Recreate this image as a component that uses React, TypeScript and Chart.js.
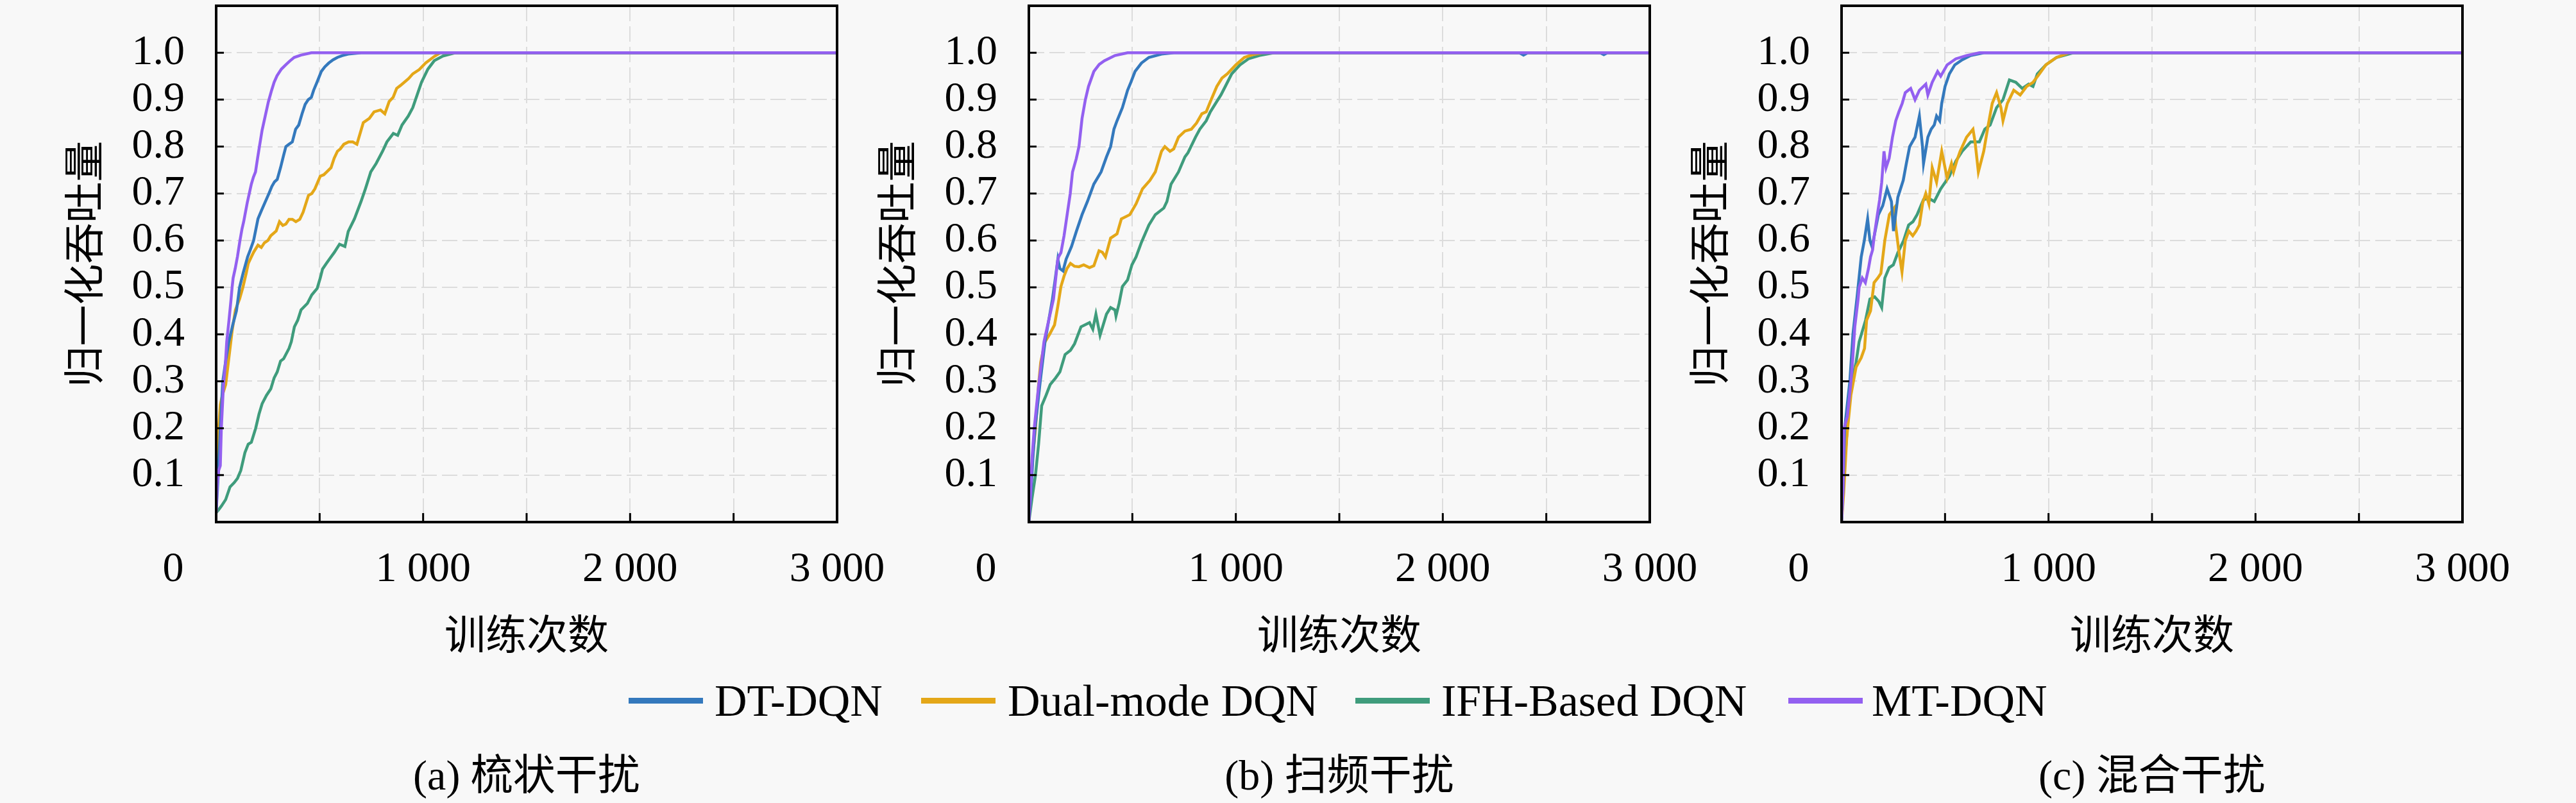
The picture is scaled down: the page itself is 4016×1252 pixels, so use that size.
import React, { useEffect, useRef } from 'react';
import { Chart, registerables } from 'chart.js';

Chart.register(...registerables);

// ---------- labels ----------
const SERIES_NAMES = ['DT-DQN', 'Dual-mode DQN', 'IFH-Based DQN', 'MT-DQN'];
const SERIES_COLORS = ['#3479bd', '#e4a718', '#3f9c7c', '#9360f0'];
const SERIES_DRAW_ORDER = [1, 2, 3, 0];
const PANEL_CAPTIONS = ['(a) 梳状干扰', '(b) 扫频干扰', '(c) 混合干扰'];
const X_TITLE = '训练次数';
const Y_TITLE = '归一化吞吐量';
const X_TICKS = [0, 1000, 2000, 3000];
const X_TICK_LABELS = ['0', '1 000', '2 000', '3 000'];
const X_TICK_MARKS = [500, 1000, 1500, 2000, 2500];
const Y_TICKS = [0.1, 0.2, 0.3, 0.4, 0.5, 0.6, 0.7, 0.8, 0.9, 1.0];

// ---------- panel (a) 梳状干扰 ----------
const A_DT_X = [0, 10, 20, 32, 45, 61, 80, 98, 113, 130, 152, 165, 181, 202, 220, 238, 255, 269, 282, 295, 311, 325, 337, 352, 368, 384, 399, 415, 430, 445, 460, 471, 487, 508, 525, 544, 565, 586, 610, 638, 700, 800, 3000];
const A_DT_Y = [0.02, 0.1, 0.2, 0.3, 0.34, 0.384, 0.42, 0.45, 0.5, 0.53, 0.565, 0.58, 0.6, 0.646, 0.665, 0.683, 0.7, 0.715, 0.725, 0.73, 0.755, 0.78, 0.8, 0.805, 0.81, 0.837, 0.846, 0.87, 0.89, 0.9, 0.905, 0.92, 0.937, 0.96, 0.97, 0.978, 0.985, 0.99, 0.994, 0.997, 1, 1, 1];
const A_DM_X = [0, 5, 12, 20, 30, 46, 61, 77, 93, 113, 129, 145, 155, 170, 181, 202, 218, 233, 250, 264, 290, 306, 322, 337, 352, 368, 385, 404, 420, 446, 462, 477, 503, 520, 534, 555, 570, 586, 600, 617, 640, 660, 680, 711, 740, 763, 794, 815, 836, 855, 872, 890, 909, 930, 950, 981, 1012, 1054, 1084, 1150, 3000];
const A_DM_Y = [0.02, 0.1, 0.2, 0.25, 0.27, 0.293, 0.348, 0.407, 0.452, 0.475, 0.5, 0.53, 0.551, 0.565, 0.575, 0.59, 0.585, 0.595, 0.6, 0.61, 0.62, 0.64, 0.632, 0.635, 0.645, 0.645, 0.64, 0.645, 0.66, 0.696, 0.7, 0.71, 0.737, 0.74, 0.746, 0.755, 0.775, 0.79, 0.795, 0.805, 0.81, 0.81, 0.805, 0.851, 0.86, 0.874, 0.878, 0.87, 0.896, 0.905, 0.924, 0.93, 0.937, 0.945, 0.955, 0.964, 0.978, 0.992, 1, 1, 1];
const A_IFH_X = [0, 10, 25, 46, 67, 87, 103, 119, 139, 155, 170, 191, 207, 222, 243, 264, 280, 295, 311, 326, 352, 363, 378, 394, 410, 441, 462, 488, 503, 514, 534, 550, 570, 596, 622, 638, 668, 700, 721, 747, 773, 804, 825, 856, 877, 898, 928, 950, 971, 992, 1023, 1054, 1096, 1158, 1250, 3000];
const A_IFH_Y = [0.02, 0.025, 0.034, 0.048, 0.075, 0.084, 0.093, 0.11, 0.148, 0.166, 0.17, 0.2, 0.23, 0.252, 0.27, 0.284, 0.307, 0.32, 0.343, 0.348, 0.37, 0.384, 0.416, 0.43, 0.452, 0.466, 0.484, 0.498, 0.52, 0.539, 0.552, 0.562, 0.574, 0.592, 0.587, 0.619, 0.646, 0.683, 0.71, 0.746, 0.764, 0.79, 0.81, 0.828, 0.824, 0.846, 0.865, 0.883, 0.91, 0.937, 0.965, 0.983, 0.993, 1, 1, 1];
const A_MT_X = [0, 5, 12, 20, 25, 35, 45, 51, 62, 72, 77, 82, 92, 103, 115, 125, 133, 150, 170, 180, 190, 200, 209, 222, 237, 252, 268, 280, 294, 315, 336, 355, 377, 410, 460, 520, 600, 3000];
const A_MT_Y = [0.02, 0.08, 0.11, 0.12, 0.2, 0.29, 0.34, 0.384, 0.43, 0.475, 0.5, 0.52, 0.54, 0.566, 0.6, 0.625, 0.64, 0.68, 0.72, 0.735, 0.746, 0.775, 0.8, 0.835, 0.865, 0.895, 0.92, 0.937, 0.951, 0.965, 0.974, 0.982, 0.99, 0.995, 1, 1, 1, 1];

// ---------- panel (b) 扫频干扰 ----------
const B_DT_X = [0, 10, 20, 30, 55, 78, 96, 114, 128, 140, 150, 165, 180, 206, 230, 257, 283, 314, 349, 375, 395, 411, 426, 452, 477, 493, 513, 544, 580, 641, 700, 2370, 2390, 2410, 2760, 2778, 2795, 3000];
const B_DT_Y = [0, 0.06, 0.14, 0.2, 0.3, 0.384, 0.43, 0.475, 0.52, 0.56, 0.54, 0.535, 0.56, 0.587, 0.62, 0.655, 0.683, 0.72, 0.746, 0.778, 0.8, 0.837, 0.855, 0.883, 0.92, 0.937, 0.96, 0.978, 0.99, 0.997, 1, 1, 0.995, 1, 1, 0.996, 1, 1];
const B_DM_X = [0, 10, 32, 47, 57, 78, 100, 124, 140, 155, 170, 184, 201, 220, 242, 265, 293, 314, 339, 355, 370, 395, 426, 447, 488, 518, 549, 585, 611, 641, 657, 682, 700, 723, 754, 785, 810, 836, 857, 877, 908, 933, 959, 1000, 1041, 1082, 1133, 1200, 3000];
const B_DM_Y = [0, 0.1, 0.2, 0.293, 0.34, 0.384, 0.4, 0.42, 0.46, 0.502, 0.524, 0.54, 0.551, 0.545, 0.544, 0.548, 0.542, 0.546, 0.578, 0.575, 0.565, 0.605, 0.614, 0.646, 0.655, 0.678, 0.71, 0.728, 0.746, 0.79, 0.8, 0.79, 0.795, 0.82, 0.833, 0.837, 0.85, 0.87, 0.874, 0.896, 0.928, 0.946, 0.955, 0.974, 0.99, 0.996, 1, 1, 1];
const B_IFH_X = [0, 15, 32, 47, 62, 83, 103, 129, 150, 175, 201, 221, 252, 293, 309, 324, 344, 375, 395, 416, 421, 436, 452, 477, 498, 518, 544, 580, 611, 652, 667, 687, 723, 754, 769, 805, 826, 857, 877, 908, 928, 949, 980, 1020, 1061, 1113, 1184, 1260, 3000];
const B_IFH_Y = [0, 0.05, 0.1, 0.166, 0.248, 0.27, 0.293, 0.307, 0.32, 0.357, 0.366, 0.38, 0.416, 0.425, 0.411, 0.443, 0.398, 0.443, 0.457, 0.452, 0.439, 0.466, 0.502, 0.516, 0.548, 0.565, 0.596, 0.633, 0.655, 0.669, 0.683, 0.72, 0.746, 0.778, 0.787, 0.82, 0.837, 0.855, 0.874, 0.896, 0.91, 0.928, 0.955, 0.974, 0.987, 0.994, 1, 1, 1];
const B_MT_X = [0, 8, 16, 26, 47, 73, 98, 119, 130, 139, 144, 155, 170, 185, 200, 211, 229, 242, 257, 273, 288, 314, 340, 365, 416, 477, 560, 3000];
const B_MT_Y = [0, 0.06, 0.14, 0.2, 0.29, 0.384, 0.434, 0.475, 0.52, 0.557, 0.565, 0.574, 0.61, 0.655, 0.7, 0.746, 0.774, 0.8, 0.86, 0.9, 0.928, 0.96, 0.975, 0.983, 0.994, 1, 1, 1];

// ---------- panel (c) 混合干扰 ----------
const C_DT_X = [0, 8, 15, 30, 40, 55, 75, 95, 110, 126, 137, 147, 158, 178, 199, 220, 241, 251, 272, 298, 313, 329, 355, 376, 391, 396, 417, 433, 448, 459, 474, 484, 500, 521, 547, 583, 624, 687, 780, 3000];
const C_DT_Y = [0, 0.08, 0.2, 0.26, 0.3, 0.4, 0.48, 0.565, 0.6, 0.646, 0.6, 0.587, 0.61, 0.655, 0.674, 0.71, 0.683, 0.62, 0.692, 0.728, 0.764, 0.8, 0.82, 0.865, 0.8, 0.764, 0.82, 0.837, 0.846, 0.865, 0.855, 0.892, 0.928, 0.955, 0.974, 0.985, 0.994, 1, 1, 1];
const C_DM_X = [0, 10, 25, 45, 70, 95, 111, 121, 140, 157, 175, 190, 209, 231, 256, 261, 276, 292, 308, 325, 344, 360, 376, 392, 407, 422, 438, 459, 484, 510, 531, 541, 557, 573, 604, 635, 645, 661, 687, 707, 728, 749, 770, 780, 801, 832, 863, 894, 925, 956, 987, 1039, 1101, 1180, 3000];
const C_DM_Y = [0, 0.06, 0.18, 0.27, 0.33, 0.35, 0.37, 0.43, 0.45, 0.51, 0.52, 0.53, 0.6, 0.655, 0.67, 0.633, 0.58, 0.533, 0.6, 0.62, 0.61, 0.62, 0.633, 0.68, 0.7, 0.678, 0.755, 0.724, 0.79, 0.733, 0.764, 0.746, 0.77, 0.79, 0.82, 0.837, 0.81, 0.746, 0.79, 0.842, 0.892, 0.915, 0.883, 0.855, 0.892, 0.92, 0.91, 0.928, 0.937, 0.955, 0.974, 0.99, 1, 1, 1];
const C_IFH_X = [0, 12, 28, 44, 70, 85, 116, 137, 160, 180, 194, 209, 230, 250, 272, 300, 324, 345, 365, 396, 420, 448, 479, 521, 552, 583, 624, 666, 692, 718, 749, 780, 811, 842, 873, 904, 925, 946, 987, 1039, 1122, 1200, 3000];
const C_IFH_Y = [0, 0.11, 0.2, 0.29, 0.34, 0.384, 0.43, 0.475, 0.48, 0.47, 0.457, 0.52, 0.542, 0.548, 0.574, 0.6, 0.633, 0.64, 0.655, 0.687, 0.69, 0.683, 0.71, 0.737, 0.769, 0.79, 0.81, 0.81, 0.837, 0.846, 0.883, 0.9, 0.942, 0.937, 0.924, 0.933, 0.928, 0.955, 0.974, 0.99, 1, 1, 1];
const C_MT_X = [0, 7, 12, 28, 44, 54, 64, 80, 85, 100, 115, 130, 140, 150, 158, 173, 184, 194, 205, 215, 230, 246, 262, 277, 293, 308, 334, 355, 376, 407, 417, 438, 464, 479, 510, 552, 604, 666, 750, 3000];
const C_MT_Y = [0, 0.066, 0.2, 0.225, 0.293, 0.348, 0.416, 0.475, 0.5, 0.52, 0.51, 0.54, 0.565, 0.58, 0.61, 0.655, 0.687, 0.724, 0.79, 0.755, 0.775, 0.82, 0.855, 0.874, 0.892, 0.915, 0.924, 0.9, 0.92, 0.933, 0.91, 0.937, 0.96, 0.95, 0.974, 0.987, 0.994, 1, 1, 1];

const PANELS = [
  [[A_DT_X, A_DT_Y], [A_DM_X, A_DM_Y], [A_IFH_X, A_IFH_Y], [A_MT_X, A_MT_Y]],
  [[B_DT_X, B_DT_Y], [B_DM_X, B_DM_Y], [B_IFH_X, B_IFH_Y], [B_MT_X, B_MT_Y]],
  [[C_DT_X, C_DT_Y], [C_DM_X, C_DM_Y], [C_IFH_X, C_IFH_Y], [C_MT_X, C_MT_Y]],
];

// ---------- layout ----------
const PAGE_W = 4016;
const PAGE_H = 1252;
const BG = '#f8f8f8';
const GRID_COLOR = '#dcdcdc';
const CANVAS_W = 1420;
const CANVAS_H = 1040;
const PANEL_LEFTS = [0, 1267, 2534];
const PAD = { left: 337, top: 9, right: CANVAS_W - 337 - 968, bottom: CANVAS_H - 814 };
const SERIF = '"Liberation Serif", "Times New Roman", serif';
const CJK = '"Noto Sans CJK SC", sans-serif';
const LEGEND_SWATCH_LEFT = [980, 1436, 2113, 2788];
const LEGEND_TEXT_LEFT = [1114, 1571, 2247, 2918];

const framePlugin = {
  id: 'frameAndLabels',
  afterDraw(chart: any) {
    const { ctx, chartArea: a, scales } = chart;
    const xs = scales.x;
    const ys = scales.y;
    ctx.save();
    ctx.strokeStyle = '#000';
    ctx.lineWidth = 3;
    ctx.beginPath();
    Y_TICKS.forEach((v) => {
      const y = ys.getPixelForValue(v);
      ctx.moveTo(a.left, y);
      ctx.lineTo(a.left + 12, y);
    });
    X_TICK_MARKS.forEach((v) => {
      const x = xs.getPixelForValue(v);
      ctx.moveTo(x, a.bottom);
      ctx.lineTo(x, a.bottom - 14);
    });
    ctx.stroke();
    ctx.lineWidth = 4;
    ctx.strokeRect(a.left, a.top, a.right - a.left, a.bottom - a.top);

    ctx.fillStyle = '#000';
    ctx.font = `66px ${SERIF}`;
    ctx.textAlign = 'right';
    ctx.textBaseline = 'middle';
    Y_TICKS.forEach((v) => ctx.fillText(v.toFixed(1), a.left - 49, ys.getPixelForValue(v)));
    ctx.textAlign = 'center';
    ctx.textBaseline = 'alphabetic';
    X_TICKS.forEach((v, i) => {
      let x = xs.getPixelForValue(v);
      if (v === 0) x -= 67;
      ctx.fillText(X_TICK_LABELS[i], x, a.bottom + 92);
    });

    ctx.font = `64px ${CJK}`;
    ctx.textBaseline = 'middle';
    ctx.fillText(X_TITLE, (a.left + a.right) / 2, a.bottom + 174);
    ctx.translate(a.left - 207, (a.top + a.bottom) / 2);
    ctx.rotate(-Math.PI / 2);
    ctx.fillText(Y_TITLE, 0, 0);
    ctx.restore();
  },
};

function Panel({ index }: { index: number }) {
  const ref = useRef<HTMLCanvasElement | null>(null);
  useEffect(() => {
    if (!ref.current) return;
    let cancelled = false;
    const series = PANELS[index];
    const chart = new Chart(ref.current, {
      type: 'line',
      data: {
        datasets: series.map(([xs, ys], i) => ({
          label: SERIES_NAMES[i],
          data: xs.map((x: number, k: number) => ({ x, y: ys[k] })),
          borderColor: SERIES_COLORS[i],
          backgroundColor: SERIES_COLORS[i],
          borderWidth: 4.5,
          pointRadius: 0,
          tension: 0,
          fill: false,
          order: SERIES_DRAW_ORDER[i],
        })),
      },
      options: {
        responsive: false,
        animation: false,
        devicePixelRatio: 1,
        events: [],
        layout: { padding: PAD },
        plugins: { legend: { display: false }, tooltip: { enabled: false } },
        scales: {
          x: {
            type: 'linear',
            min: 0,
            max: 3000,
            ticks: { display: false, stepSize: 500 },
            grid: { color: GRID_COLOR, lineWidth: 2, drawTicks: false },
            border: { display: false, dash: [24, 8] },
          },
          y: {
            type: 'linear',
            min: 0,
            max: 1.1,
            ticks: { display: false, stepSize: 0.1 },
            grid: { color: GRID_COLOR, lineWidth: 2, drawTicks: false },
            border: { display: false, dash: [24, 8] },
          },
        },
      } as any,
      plugins: [framePlugin],
    });
    const fonts: any = (document as any).fonts;
    if (fonts && fonts.load) {
      Promise.all([
        fonts.load(`66px ${SERIF}`, '0.1'),
        fonts.load(`64px ${CJK}`, X_TITLE + Y_TITLE),
      ]).then(() => {
        if (!cancelled) chart.draw();
      }).catch(() => {});
    }
    return () => {
      cancelled = true;
      chart.destroy();
    };
  }, [index]);
  return (
    <canvas
      ref={ref}
      width={CANVAS_W}
      height={CANVAS_H}
      style={{ position: 'absolute', left: PANEL_LEFTS[index], top: 0, width: CANVAS_W, height: CANVAS_H }}
    />
  );
}

export default function App() {
  const centers = PANEL_LEFTS.map((l) => l + 337 + 484);
  return (
    <div
      style={{
        position: 'fixed',
        left: 0,
        top: 0,
        width: PAGE_W,
        height: PAGE_H,
        background: BG,
        overflow: 'hidden',
      }}
    >
      {PANELS.map((_, i) => (
        <Panel key={i} index={i} />
      ))}
      {SERIES_NAMES.map((name, i) => (
        <React.Fragment key={name}>
          <div
            style={{
              position: 'absolute',
              left: LEGEND_SWATCH_LEFT[i],
              top: 1088,
              width: 116,
              height: 9,
              background: SERIES_COLORS[i],
            }}
          />
          <div
            style={{
              position: 'absolute',
              left: LEGEND_TEXT_LEFT[i],
              top: 1058,
              fontFamily: SERIF,
              fontSize: 70,
              lineHeight: 1,
              whiteSpace: 'nowrap',
              color: '#000',
            }}
          >
            {name}
          </div>
        </React.Fragment>
      ))}
      {PANEL_CAPTIONS.map((c, i) => (
        <div
          key={c}
          style={{
            position: 'absolute',
            left: centers[i] - 400,
            width: 800,
            top: 1176,
            textAlign: 'center',
            fontFamily: `${SERIF.split(',')[0]}, ${CJK}`,
            fontSize: 66,
            lineHeight: 1,
            whiteSpace: 'nowrap',
            color: '#000',
          }}
        >
          {c}
        </div>
      ))}
    </div>
  );
}
